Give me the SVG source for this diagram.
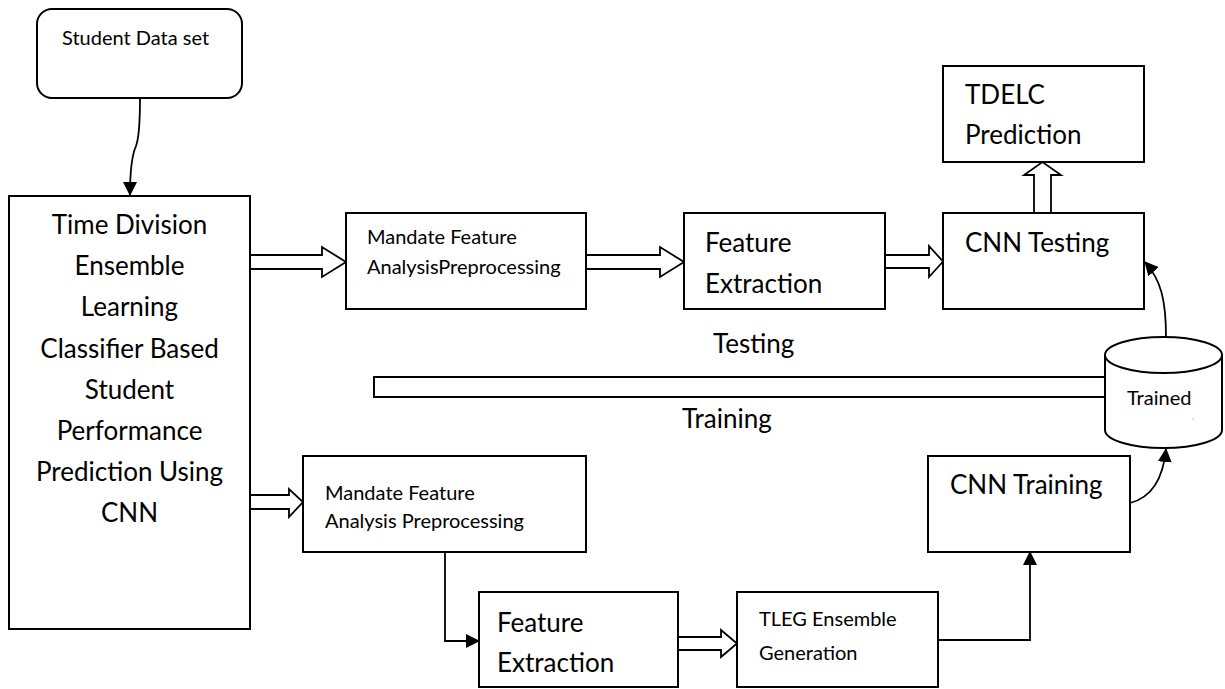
<svg xmlns="http://www.w3.org/2000/svg" width="1225" height="689" viewBox="0 0 1225 689">
  <defs>
    <style>
      .box { fill: #fff; stroke: #000; stroke-width: 2; }
      .hollow { fill: #fff; stroke: #000; stroke-width: 1.8; stroke-linejoin: miter; }
      .line { fill: none; stroke: #000; stroke-width: 1.8; }
      .big { font-family: Lato, "Liberation Sans", sans-serif; font-size: 26px; fill: #000; }
      .small { font-family: Lato, "Liberation Sans", sans-serif; font-size: 20px; fill: #000; }
      .mid { text-anchor: middle; }
    </style>
    <marker id="head" viewBox="0 0 14 14" refX="13" refY="7" markerWidth="14" markerHeight="14" markerUnits="userSpaceOnUse" orient="auto">
      <path d="M0,0 L14,7 L0,14 Z" fill="#000"/>
    </marker>
  </defs>
  <rect width="1225" height="689" fill="#fff"/>

  <g id="connectors">
    <!-- source data into main block -->
    <path class="line" d="M140,98 C140,125 139,138 136,146 C132,155 130,168 130,195" marker-end="url(#head)"/>
    <!-- testing row block arrows -->
    <polygon class="hollow" points="250,255 322,255 322,247 346,262 322,277 322,269 250,269"/>
    <polygon class="hollow" points="586,255 660,255 660,247 684,262 660,277 660,269 586,269"/>
    <polygon class="hollow" points="885,255 929,255 929,246 943,261.5 929,277 929,268 885,268"/>
    <polygon class="hollow" points="1034,213 1034,175 1024,175 1042.5,162 1061,175 1051,175 1051,213"/>
    <!-- training row block arrows -->
    <polygon class="hollow" points="250,495 289,495 289,489 303,502 289,517 289,509 250,509"/>
    <polygon class="hollow" points="678,637 721,637 721,630 737,643.5 721,657 721,650 678,650"/>
    <!-- elbow connectors -->
    <path class="line" d="M445,552 L445,641 L479,641" marker-end="url(#head)"/>
    <path class="line" d="M938,640 L1030,640 L1030,552" marker-end="url(#head)"/>
    <!-- model store links -->
    <path class="line" d="M1166,337 C1166,300 1161,280 1145,262" marker-end="url(#head)"/>
    <path class="line" d="M1130,503 C1150,498 1163,480 1166,449" marker-end="url(#head)"/>
    <!-- testing / training divider -->
    <rect x="374" y="377" width="731" height="20" class="box" stroke-width="1.8"/>
  </g>

  <g id="student-data-set">
    <rect class="box" x="37" y="9" width="205" height="89" rx="15"/>
    <text class="small" x="62" y="45">Student Data set</text>
  </g>

  <g id="tdelc-framework">
    <rect class="box" x="9" y="196" width="241" height="433"/>
    <text class="big mid" x="129.5" y="234">Time Division</text>
    <text class="big mid" x="129.5" y="275">Ensemble</text>
    <text class="big mid" x="129.5" y="316">Learning</text>
    <text class="big mid" x="129.5" y="358">Classifier Based</text>
    <text class="big mid" x="129.5" y="399">Student</text>
    <text class="big mid" x="129.5" y="440">Performance</text>
    <text class="big mid" x="129.5" y="481">Prediction Using</text>
    <text class="big mid" x="129.5" y="522">CNN</text>
  </g>

  <g id="test-preprocessing">
    <rect class="box" x="346" y="213" width="240" height="96"/>
    <text class="small" x="367" y="244">Mandate Feature</text>
    <text class="small" x="367" y="274">AnalysisPreprocessing</text>
  </g>

  <g id="test-feature-extraction">
    <rect class="box" x="684" y="213" width="201" height="96"/>
    <text class="big" x="705" y="252">Feature</text>
    <text class="big" x="705" y="293">Extraction</text>
  </g>

  <g id="cnn-testing">
    <rect class="box" x="943" y="213" width="201" height="96"/>
    <text class="big" x="965" y="252">CNN Testing</text>
  </g>

  <g id="tdelc-prediction">
    <rect class="box" x="943" y="66" width="201" height="96"/>
    <text class="big" x="965" y="104">TDELC</text>
    <text class="big" x="965" y="144">Prediction</text>
  </g>

  <g id="phase-labels">
    <text class="big" x="713" y="353">Testing</text>
    <text class="big" x="682" y="428">Training</text>
  </g>

  <g id="trained-model">
    <path class="box" d="M1105,355 L1105,430 A58.5,18 0 0 0 1222,430 L1222,355"/>
    <ellipse class="box" cx="1163.5" cy="355" rx="58.5" ry="18"/>
    <text class="small" x="1127" y="405">Trained</text>
    <circle cx="1193" cy="419" r="0.7" fill="#aaa"/>
  </g>

  <g id="train-preprocessing">
    <rect class="box" x="303" y="456" width="283" height="96"/>
    <text class="small" x="325" y="500">Mandate Feature</text>
    <text class="small" x="325" y="528">Analysis Preprocessing</text>
  </g>

  <g id="train-feature-extraction">
    <rect class="box" x="479" y="592" width="199" height="95"/>
    <text class="big" x="497" y="632">Feature</text>
    <text class="big" x="497" y="672">Extraction</text>
  </g>

  <g id="tleg-ensemble">
    <rect class="box" x="737" y="592" width="201" height="95"/>
    <text class="small" x="759" y="626">TLEG Ensemble</text>
    <text class="small" x="759" y="660">Generation</text>
  </g>

  <g id="cnn-training">
    <rect class="box" x="928" y="456" width="202" height="96"/>
    <text class="big" x="950" y="494">CNN Training</text>
  </g>
</svg>
